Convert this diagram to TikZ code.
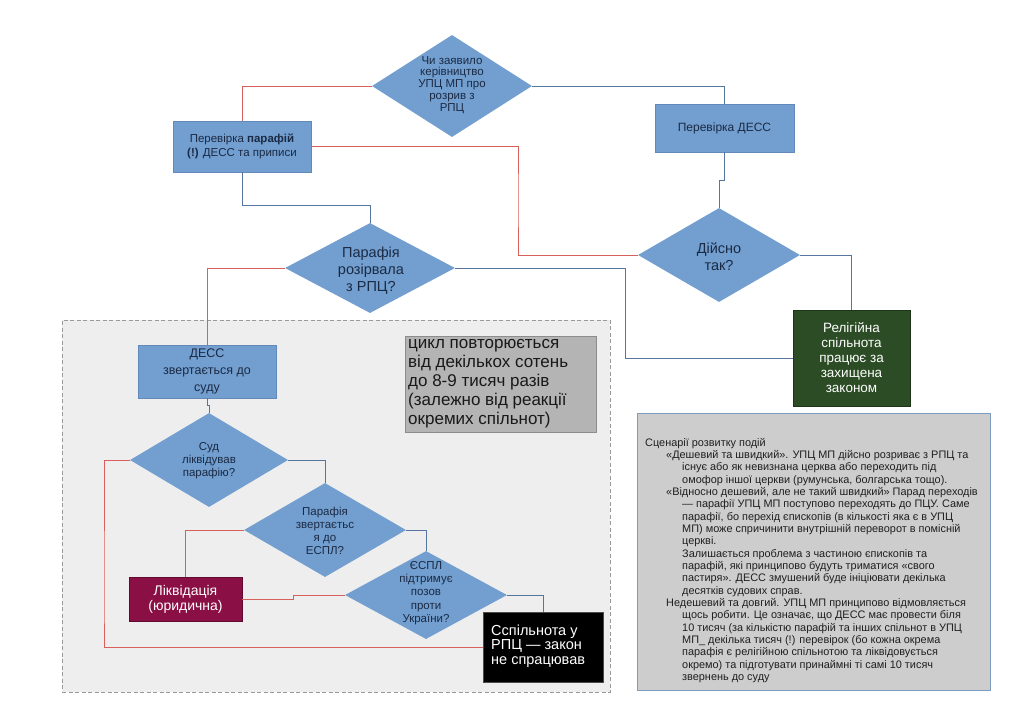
\documentclass[tikz,border=0pt]{standalone}
\usepackage{fontspec}
\setmainfont{Liberation Sans}
\usetikzlibrary{shapes.geometric}
\definecolor{bfill}{HTML}{729FCF}
\definecolor{bedge}{HTML}{6289BA}
\definecolor{bline}{HTML}{5676A0}
\definecolor{rline}{HTML}{D8605C}
\definecolor{btext}{HTML}{1B2A44}
\definecolor{gfill}{HTML}{2B4C24}
\definecolor{mfill}{HTML}{8A0F45}
\definecolor{cfill}{HTML}{B4B4B4}
\definecolor{cedge}{HTML}{8C8C8C}
\definecolor{sfill}{HTML}{CDCDCD}
\definecolor{sedge}{HTML}{7E9CC0}
\definecolor{zfill}{HTML}{EEEEEE}
\definecolor{zedge}{HTML}{9A9A9A}
\tikzset{
  blk/.style={rectangle, fill=bfill, draw=bedge, line width=0.5pt, inner sep=0pt, align=center, text=btext},
  dia/.style={diamond, fill=bfill, draw=none, inner sep=0pt},
  lbl/.style={inner sep=0pt, align=center, text=btext},
  conn/.style={draw=bline, line width=0.8pt},
  rconn/.style={draw=rline, line width=0.8pt},
  sc/.style={anchor=base west, inner sep=0pt, font=\fontsize{10.9}{12}\selectfont, text=black!88}
}
\begin{document}
\begin{tikzpicture}[x=1pt,y=-1pt]
\useasboundingbox[fill=white] (0,0) rectangle (1024,724);

% dashed region
\node[rectangle, fill=zfill, draw=zedge, dashed, dash pattern=on 4pt off 2.5pt, line width=0.8pt, minimum width=548, minimum height=372, inner sep=0pt] (zone) at (336,506) {};

% diamonds
\node[dia, minimum width=160, minimum height=102] (d1) at (452,86) {};
\node[lbl, font=\fontsize{11.5}{11.9}\selectfont] (t1) at (452,85) {Чи заявило\\керівництво\\УПЦ МП про\\розрив з\\РПЦ};

\node[dia, minimum width=162, minimum height=94] (d2) at (719,255) {};
\node[lbl, font=\fontsize{14.5}{17}\selectfont] (t2) at (719,257) {Дійсно\\так?};

\node[dia, minimum width=170, minimum height=90] (d3) at (370,268) {};
\node[lbl, font=\fontsize{14.5}{17}\selectfont] (t3) at (371,271) {Парафія\\розірвала\\з РПЦ?};

\node[dia, minimum width=158, minimum height=94] (d4) at (209,460) {};
\node[lbl, font=\fontsize{11.5}{13}\selectfont] (t4) at (209,461) {Суд\\ліквідував\\парафію?};

\node[dia, minimum width=162, minimum height=94] (d5) at (325,530) {};
\node[lbl, font=\fontsize{11.5}{13}\selectfont] (t5) at (325,531) {Парафія\\звертаєтьс\\я до\\ЕСПЛ?};

\node[dia, minimum width=162, minimum height=88] (d6) at (426,595) {};
\node[lbl, font=\fontsize{11.5}{13.2}\selectfont] (t6) at (426,593) {ЄСПЛ\\підтримує\\позов\\проти\\України?};

% boxes
\node[blk, minimum width=138, minimum height=51, font=\fontsize{11.5}{13.5}\selectfont] (b1) at (242,146.5) {Перевірка \textbf{парафій}\\\textbf{(!)} ДЕСС та приписи};
\node[blk, minimum width=139, minimum height=48, font=\fontsize{12}{14}\selectfont] (b2) at (724.5,128) {Перевірка ДЕСС};
\node[blk, fill=gfill, draw=gfill!70!black, text=white, minimum width=117, minimum height=96, font=\fontsize{13.5}{15}\selectfont] (b3) at (851.5,358) {Релігійна\\спільнота\\працює за\\захищена\\законом};
\node[blk, minimum width=138, minimum height=53, font=\fontsize{12.5}{17}\selectfont] (b4) at (207,371.5) {ДЕСС\\звертається до\\суду};
\node[rectangle, fill=cfill, draw=cedge, line width=0.8pt, minimum width=191, minimum height=96, inner sep=0pt] (b7) at (500.5,384) {};
\node[anchor=west, inner sep=0pt, align=left, text=black!90, font=\fontsize{17}{19}\selectfont] (t7) at (408,384) {цикл повторюється\\від декількох сотень\\до 8-9 тисяч разів\\(залежно від реакції\\окремих спільнот)};
\node[blk, fill=mfill, draw=mfill!70!black, text=white, minimum width=113, minimum height=44, font=\fontsize{14}{15}\selectfont] (b5) at (185.5,599) {Ліквідація\\(юридична)};
\node[rectangle, fill=black, draw=black!70, line width=0.5pt, minimum width=120, minimum height=70, inner sep=0pt] (b6) at (543,647) {};
\node[anchor=west, inner sep=0pt, align=left, text=white, font=\fontsize{14.5}{14.5}\selectfont] (t8) at (491,646) {Сспільнота у\\РПЦ — закон\\не спрацював};

% connectors
\draw[rconn] (d1.west) -| (b1.north);
\draw[conn] (d1.east) -| (b2.north);
\draw[rconn] (b1.east) -| (518,200) |- (d2.west);
\draw[conn] (b2.south) -- ++(0,28) -| (d2.north);
\draw[conn] (d2.east) -| (b3.north);
\draw[conn] (b1.south) -- ++(0,33) -| (d3.north);
\draw[rconn] (d3.west) -| (b4.north);
\draw[conn] (d3.east) -| (625,300) |- (b3.west);
\draw[conn] (b4.south) -- ++(0,7) -| (d4.north);
\draw[rconn] (d4.west) -| (104,600) |- (b6.west);
\draw[conn] (d4.east) -| (d5.north);
\draw[rconn] (d5.west) -| (b5.north);
\draw[conn] (d5.east) -| (d6.north);
\draw[rconn] (b5.east) -- (293,599) |- (d6.west);
\draw[conn] (d6.east) -| (b6.north);

% scenarios box
\node[rectangle, fill=sfill, draw=sedge, line width=0.8pt, minimum width=353, minimum height=277, inner sep=0pt] (b8) at (813.5,551.5) {};
\node[sc] (s1) at (645,446) {Сценарії розвитку подій};
\node[sc] (s2) at (666,458.35) {«Дешевий та швидкий». УПЦ МП дійсно розриває з РПЦ та};
\node[sc] (s3) at (682,470.7) {існує або як невизнана церква або переходить під};
\node[sc] (s4) at (682,483.05) {омофор іншої церкви (румунська, болгарська тощо).};
\node[sc] (s5) at (666,495.4) {«Відносно дешевий, але не такий швидкий» Парад переходів};
\node[sc] (s6) at (682,507.75) {— парафії УПЦ МП поступово переходять до ПЦУ. Саме};
\node[sc] (s7) at (682,520.1) {парафії, бо перехід єпископів (в кількості яка є в УПЦ};
\node[sc] (s8) at (682,532.45) {МП) може спричинити внутрішній переворот в помісній};
\node[sc] (s9) at (682,544.8) {церкві.};
\node[sc] (s10) at (682,557.15) {Залишається проблема з частиною єпископів та};
\node[sc] (s11) at (682,569.5) {парафій, які принципово будуть триматися «свого};
\node[sc] (s12) at (682,581.85) {пастиря». ДЕСС змушений буде ініціювати декілька};
\node[sc] (s13) at (682,594.2) {десятків судових справ.};
\node[sc] (s14) at (666,606.55) {Недешевий та довгий. УПЦ МП принципово відмовляється};
\node[sc] (s15) at (682,618.9) {щось робити. Це означає, що ДЕСС має провести біля};
\node[sc] (s16) at (682,631.25) {10 тисяч (за кількістю парафій та інших спільнот в УПЦ};
\node[sc] (s17) at (682,643.6) {МП\_ декілька тисяч (!) перевірок (бо кожна окрема};
\node[sc] (s18) at (682,655.95) {парафія є релігійною спільнотою та ліквідовується};
\node[sc] (s19) at (682,668.3) {окремо) та підготувати принаймні ті самі 10 тисяч};
\node[sc] (s20) at (682,680.65) {звернень до суду};
\end{tikzpicture}
\end{document}
